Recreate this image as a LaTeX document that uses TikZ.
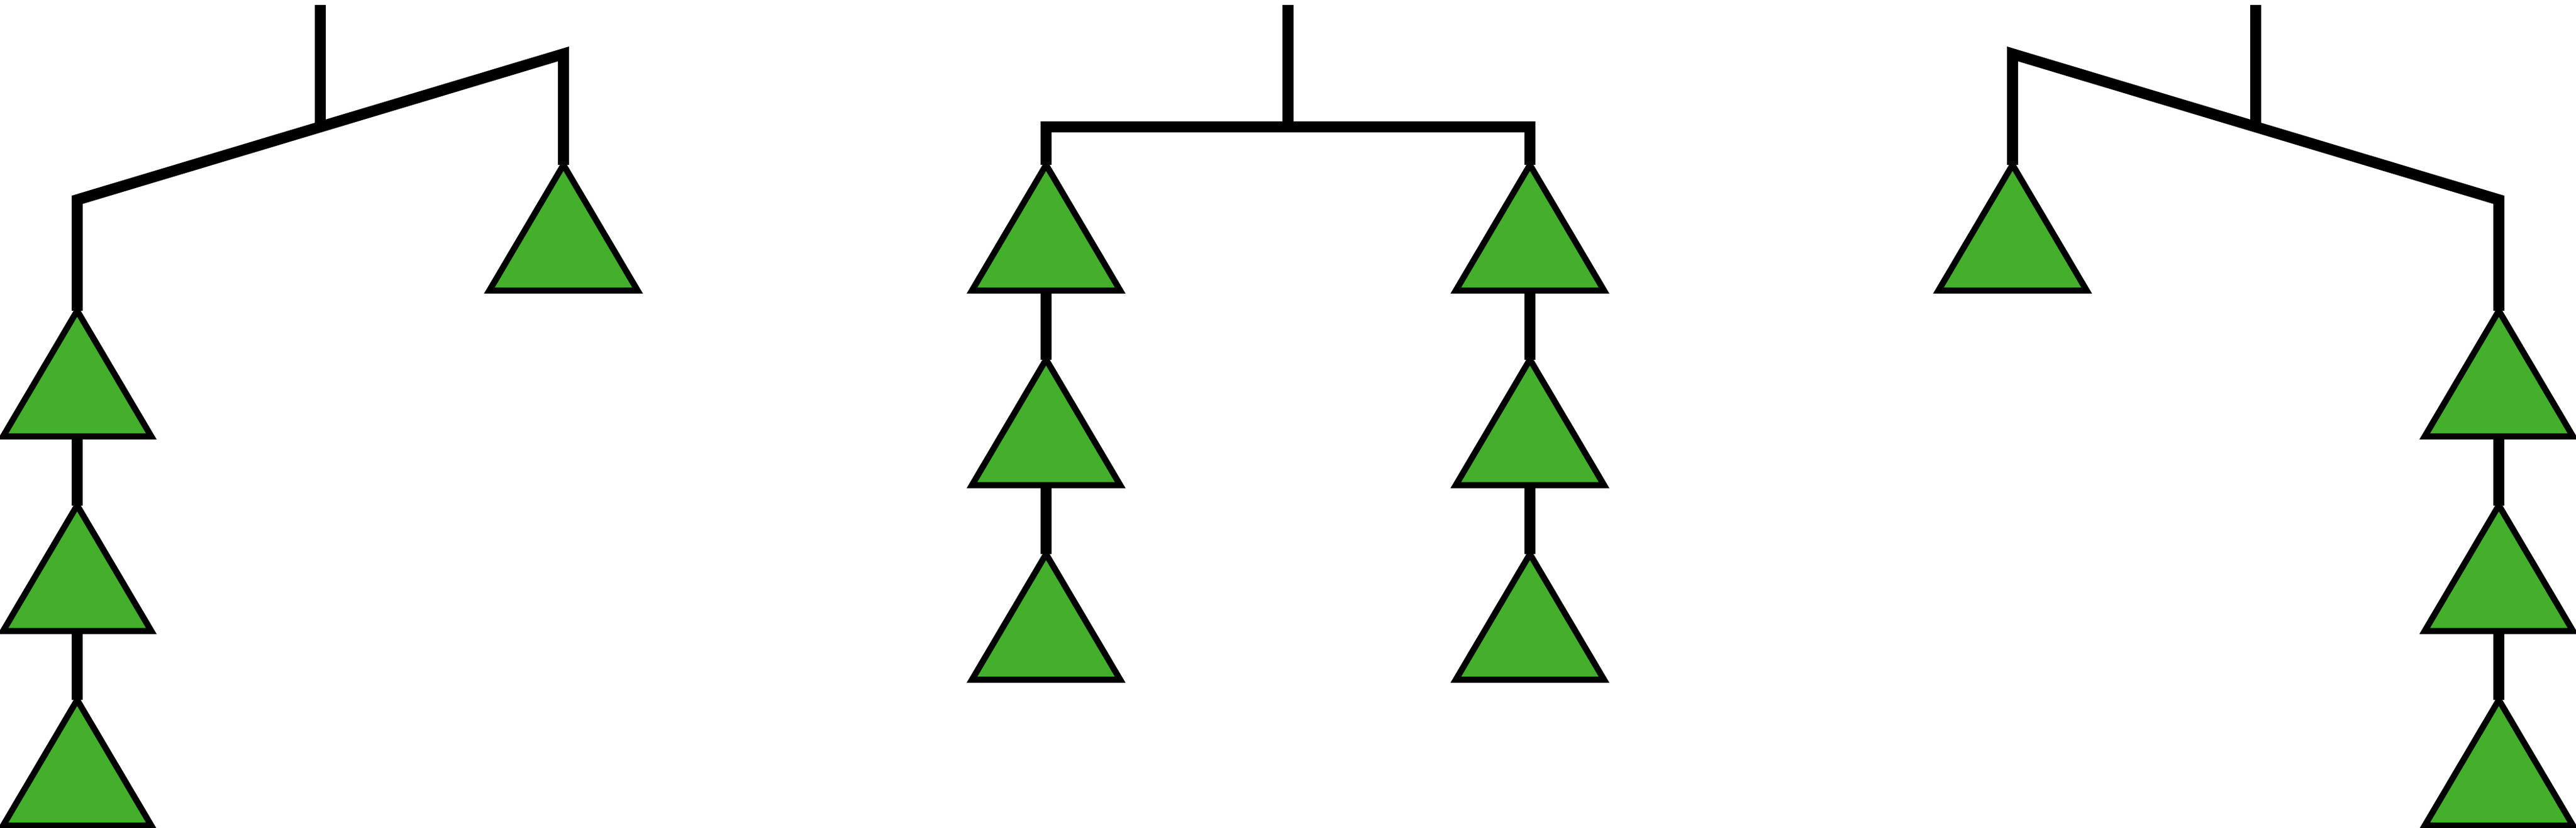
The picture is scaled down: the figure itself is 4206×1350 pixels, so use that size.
\documentclass[tikz,border=0pt]{standalone}
\usetikzlibrary{calc}
\definecolor{trigreen}{RGB}{67,175,43}
\begin{document}
\begin{tikzpicture}[x=1pt,y=-1pt,
  rod/.style={draw=black,line width=18pt,line join=miter,line cap=butt},
  tri/.style={draw=black,fill=trigreen,line width=10pt,line join=miter}]
\useasboundingbox (0,0) rectangle (4206,1350);
\newcommand\mtri[1]{%
  \draw[tri] (#1) -- ++(121,205) -- ++(-242,0) -- cycle;}
% ---------- left mobile ----------
\coordinate (Ltop) at (523,8);
\coordinate (Lmid) at (523,207);
\coordinate (Lbl) at (126,326);
\coordinate (Lbr) at (920,88);
\coordinate (LA1) at (920,269);
\coordinate (LC1) at (126,507);
\coordinate (LC2) at (126,824.5);
\coordinate (LC3) at (126,1142);
\coordinate (LC1b) at ($(LC1)+(0,205)$);
\coordinate (LC2b) at ($(LC2)+(0,205)$);
\draw[rod] (Ltop) -- (Lmid);
\draw[rod] (LC1) -- (Lbl) -- (Lbr) -- (LA1);
\draw[rod] (LC1b) -- (LC2);
\draw[rod] (LC2b) -- (LC3);
\mtri{LA1}\mtri{LC1}\mtri{LC2}\mtri{LC3}
% ---------- middle mobile ----------
\coordinate (Mtop) at (2103,8);
\coordinate (Mmid) at (2103,207);
\coordinate (Mbl) at (1708,207);
\coordinate (Mbr) at (2498,207);
\coordinate (ML1) at (1708,269);
\coordinate (ML2) at (1708,586.5);
\coordinate (ML3) at (1708,904);
\coordinate (MR1) at (2498,269);
\coordinate (MR2) at (2498,586.5);
\coordinate (MR3) at (2498,904);
\coordinate (ML1b) at ($(ML1)+(0,205)$);
\coordinate (ML2b) at ($(ML2)+(0,205)$);
\coordinate (MR1b) at ($(MR1)+(0,205)$);
\coordinate (MR2b) at ($(MR2)+(0,205)$);
\draw[rod] (Mtop) -- (Mmid);
\draw[rod] (ML1) -- (Mbl) -- (Mbr) -- (MR1);
\draw[rod] (ML1b) -- (ML2);
\draw[rod] (ML2b) -- (ML3);
\draw[rod] (MR1b) -- (MR2);
\draw[rod] (MR2b) -- (MR3);
\mtri{ML1}\mtri{ML2}\mtri{ML3}\mtri{MR1}\mtri{MR2}\mtri{MR3}
% ---------- right mobile ----------
\coordinate (Rtop) at (3683,8);
\coordinate (Rmid) at (3683,207);
\coordinate (Rbl) at (3286,88);
\coordinate (Rbr) at (4080,326);
\coordinate (RA1) at (3286,269);
\coordinate (RC1) at (4080,507);
\coordinate (RC2) at (4080,824.5);
\coordinate (RC3) at (4080,1142);
\coordinate (RC1b) at ($(RC1)+(0,205)$);
\coordinate (RC2b) at ($(RC2)+(0,205)$);
\draw[rod] (Rtop) -- (Rmid);
\draw[rod] (RA1) -- (Rbl) -- (Rbr) -- (RC1);
\draw[rod] (RC1b) -- (RC2);
\draw[rod] (RC2b) -- (RC3);
\mtri{RA1}\mtri{RC1}\mtri{RC2}\mtri{RC3}
\end{tikzpicture}
\end{document}
